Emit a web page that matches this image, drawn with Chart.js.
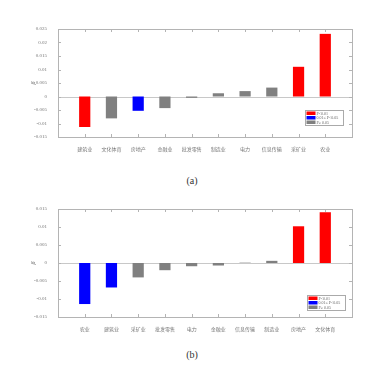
<!DOCTYPE html>
<html><head><meta charset="utf-8">
<script src="https://cdn.jsdelivr.net/npm/chart.js@4"></script>
<style>
html,body{margin:0;padding:0;background:#fff;width:375px;height:381px;overflow:hidden;}
.wrap{position:absolute;left:0;width:375px;height:140px;}
.cap{position:absolute;left:0;width:384px;text-align:center;font-family:"Liberation Serif",serif;font-size:10px;color:#333;}
</style></head>
<body>
<div class="wrap" style="top:20px"><canvas id="ca"></canvas></div>
<div class="cap" style="top:175px">(a)</div>
<div class="wrap" style="top:200px"><canvas id="cb"></canvas></div>
<div class="cap" style="top:349px">(b)</div>
<script>
// Panel (a)
const categoriesA = ['建筑业','文化体育','房地产','金融业','批发零售','制造业','电力','信息传输','采矿业','农业'];
const betaA = [-0.0113,-0.0081,-0.0053,-0.0043,-0.0005,0.0012,0.0020,0.0033,0.0110,0.0232];
const sigA = [2,0,1,0,0,0,0,0,2,2]; // 2: P<0.01, 1: 0.01≤P<0.05, 0: P≥0.05
const yTicksA = [-0.015,0.025];
// Panel (b)
const categoriesB = ['农业','建筑业','采矿业','批发零售','电力','金融业','信息传输','制造业','房地产','文化体育'];
const betaB = [-0.0114,-0.0068,-0.0040,-0.0020,-0.0009,-0.0007,0.0001,0.0006,0.0102,0.0141];
const sigB = [1,1,0,0,0,0,0,0,2,2];
const yTicksB = [-0.015,0.015];
const legendLabels = ['P<0.01','0.01≤ P<0.05','P≥ 0.05'];

const sigColor = {2:'#ff0000',1:'#0000ff',0:'#808080'};
const legendColors = ['#ff0000','#0000ff','#808080'];
const tickFont = {family:'"Liberation Serif", serif', size:5};
const catFont = {family:'"Noto Sans CJK SC", sans-serif', size:5};

const framePlugin = {
  id:'frame',
  beforeDatasetsDraw(chart){
    const {ctx, chartArea:a, scales:{x,y}} = chart;
    ctx.save();
    ctx.strokeStyle = '#c8c8c8'; ctx.lineWidth = 1;
    const y0 = Math.round(y.getPixelForValue(0))+0.5;
    ctx.beginPath(); ctx.moveTo(a.left,y0); ctx.lineTo(a.right,y0); ctx.stroke();
    ctx.restore();
  },
  afterDatasetsDraw(chart){
    const {ctx, chartArea:a, scales:{x,y}} = chart;
    ctx.save();
    ctx.strokeStyle = '#b4b4b4'; ctx.lineWidth = 1;
    ctx.strokeRect(Math.round(a.left)+0.5, Math.round(a.top)+0.5, Math.round(a.right-a.left), Math.round(a.bottom-a.top));
    ctx.beginPath();
    y.ticks.forEach((t,i)=>{
      const py = Math.round(y.getPixelForTick(i))+0.5;
      ctx.moveTo(a.left,py); ctx.lineTo(a.left+3,py);
      ctx.moveTo(a.right,py); ctx.lineTo(a.right-3,py);
    });
    x.ticks.forEach((t,i)=>{
      if(chart.data.labels[i]==='') return;
      const px = Math.round(x.getPixelForTick(i))+0.5;
      ctx.moveTo(px,a.top); ctx.lineTo(px,a.top+3);
      ctx.moveTo(px,a.bottom); ctx.lineTo(px,a.bottom-3);
    });
    ctx.stroke();
    // legend
    const o = chart.options.plugins.frame;
    const lx = o.lx, ly = o.ly, w = 38, h = 15;
    ctx.fillStyle = '#fff';
    ctx.fillRect(lx,ly,w,h);
    ctx.strokeStyle = '#aaa';
    ctx.strokeRect(lx+0.5,ly+0.5,w,h);
    ctx.font = '4px "Liberation Serif", serif';
    ctx.textBaseline = 'middle';
    legendLabels.forEach((s,i)=>{
      const ry = ly + 1.5 + i*4.5;
      ctx.fillStyle = legendColors[i];
      ctx.fillRect(lx+1.5, ry, 9, 3.5);
      ctx.fillStyle = '#666';
      ctx.fillText(s, lx+11.5, ry+2);
    });
    // y label
    ctx.save();
    ctx.translate(o.tx, (a.top+a.bottom)/2);
    ctx.rotate(-Math.PI/2);
    ctx.fillStyle = '#666';
    ctx.font = 'italic 6px "Liberation Serif", serif';
    ctx.textAlign = 'center'; ctx.textBaseline = 'middle';
    ctx.fillText('β',0,0);
    ctx.restore();
    ctx.restore();
  }
};

function fmt(v){ return String(parseFloat(v.toFixed(3))); }

function makeChart(id, cats, vals, sig, yr, leg){
  const labels = [''].concat(cats).concat(['']);
  const data = [null].concat(vals).concat([null]);
  const colors = ['#fff'].concat(sig.map(s=>sigColor[s])).concat(['#fff']);
  return new Chart(document.getElementById(id), {
    type:'bar',
    data:{labels, datasets:[{data, backgroundColor:colors, borderWidth:0, barPercentage:0.42, categoryPercentage:1}]},
    plugins:[framePlugin],
    options:{
      responsive:true, maintainAspectRatio:false, animation:false,
      layout:{padding:{top:9,right:23,left:0,bottom:0}},
      plugins:{legend:{display:false}, tooltip:{enabled:false}, frame:leg},
      scales:{
        x:{offset:false, grid:{display:false}, border:{display:false},
           ticks:{font:catFont, color:'#777', padding:1, maxRotation:0, autoSkip:false},
           afterFit(s){ s.height = 23; }},
        y:{min:yr[0], max:yr[1], grid:{display:false}, border:{display:false},
           ticks:{stepSize:0.005, font:tickFont, color:'#777', padding:3, callback:v=>fmt(v)},
           afterFit(s){ s.width = 58; }}
      }
    }
  });
}
makeChart('ca', categoriesA, betaA, sigA, yTicksA, {lx:305, ly:90, tx:33});
makeChart('cb', categoriesB, betaB, sigB, yTicksB, {lx:307, ly:95, tx:33});
</script>
</body></html>
